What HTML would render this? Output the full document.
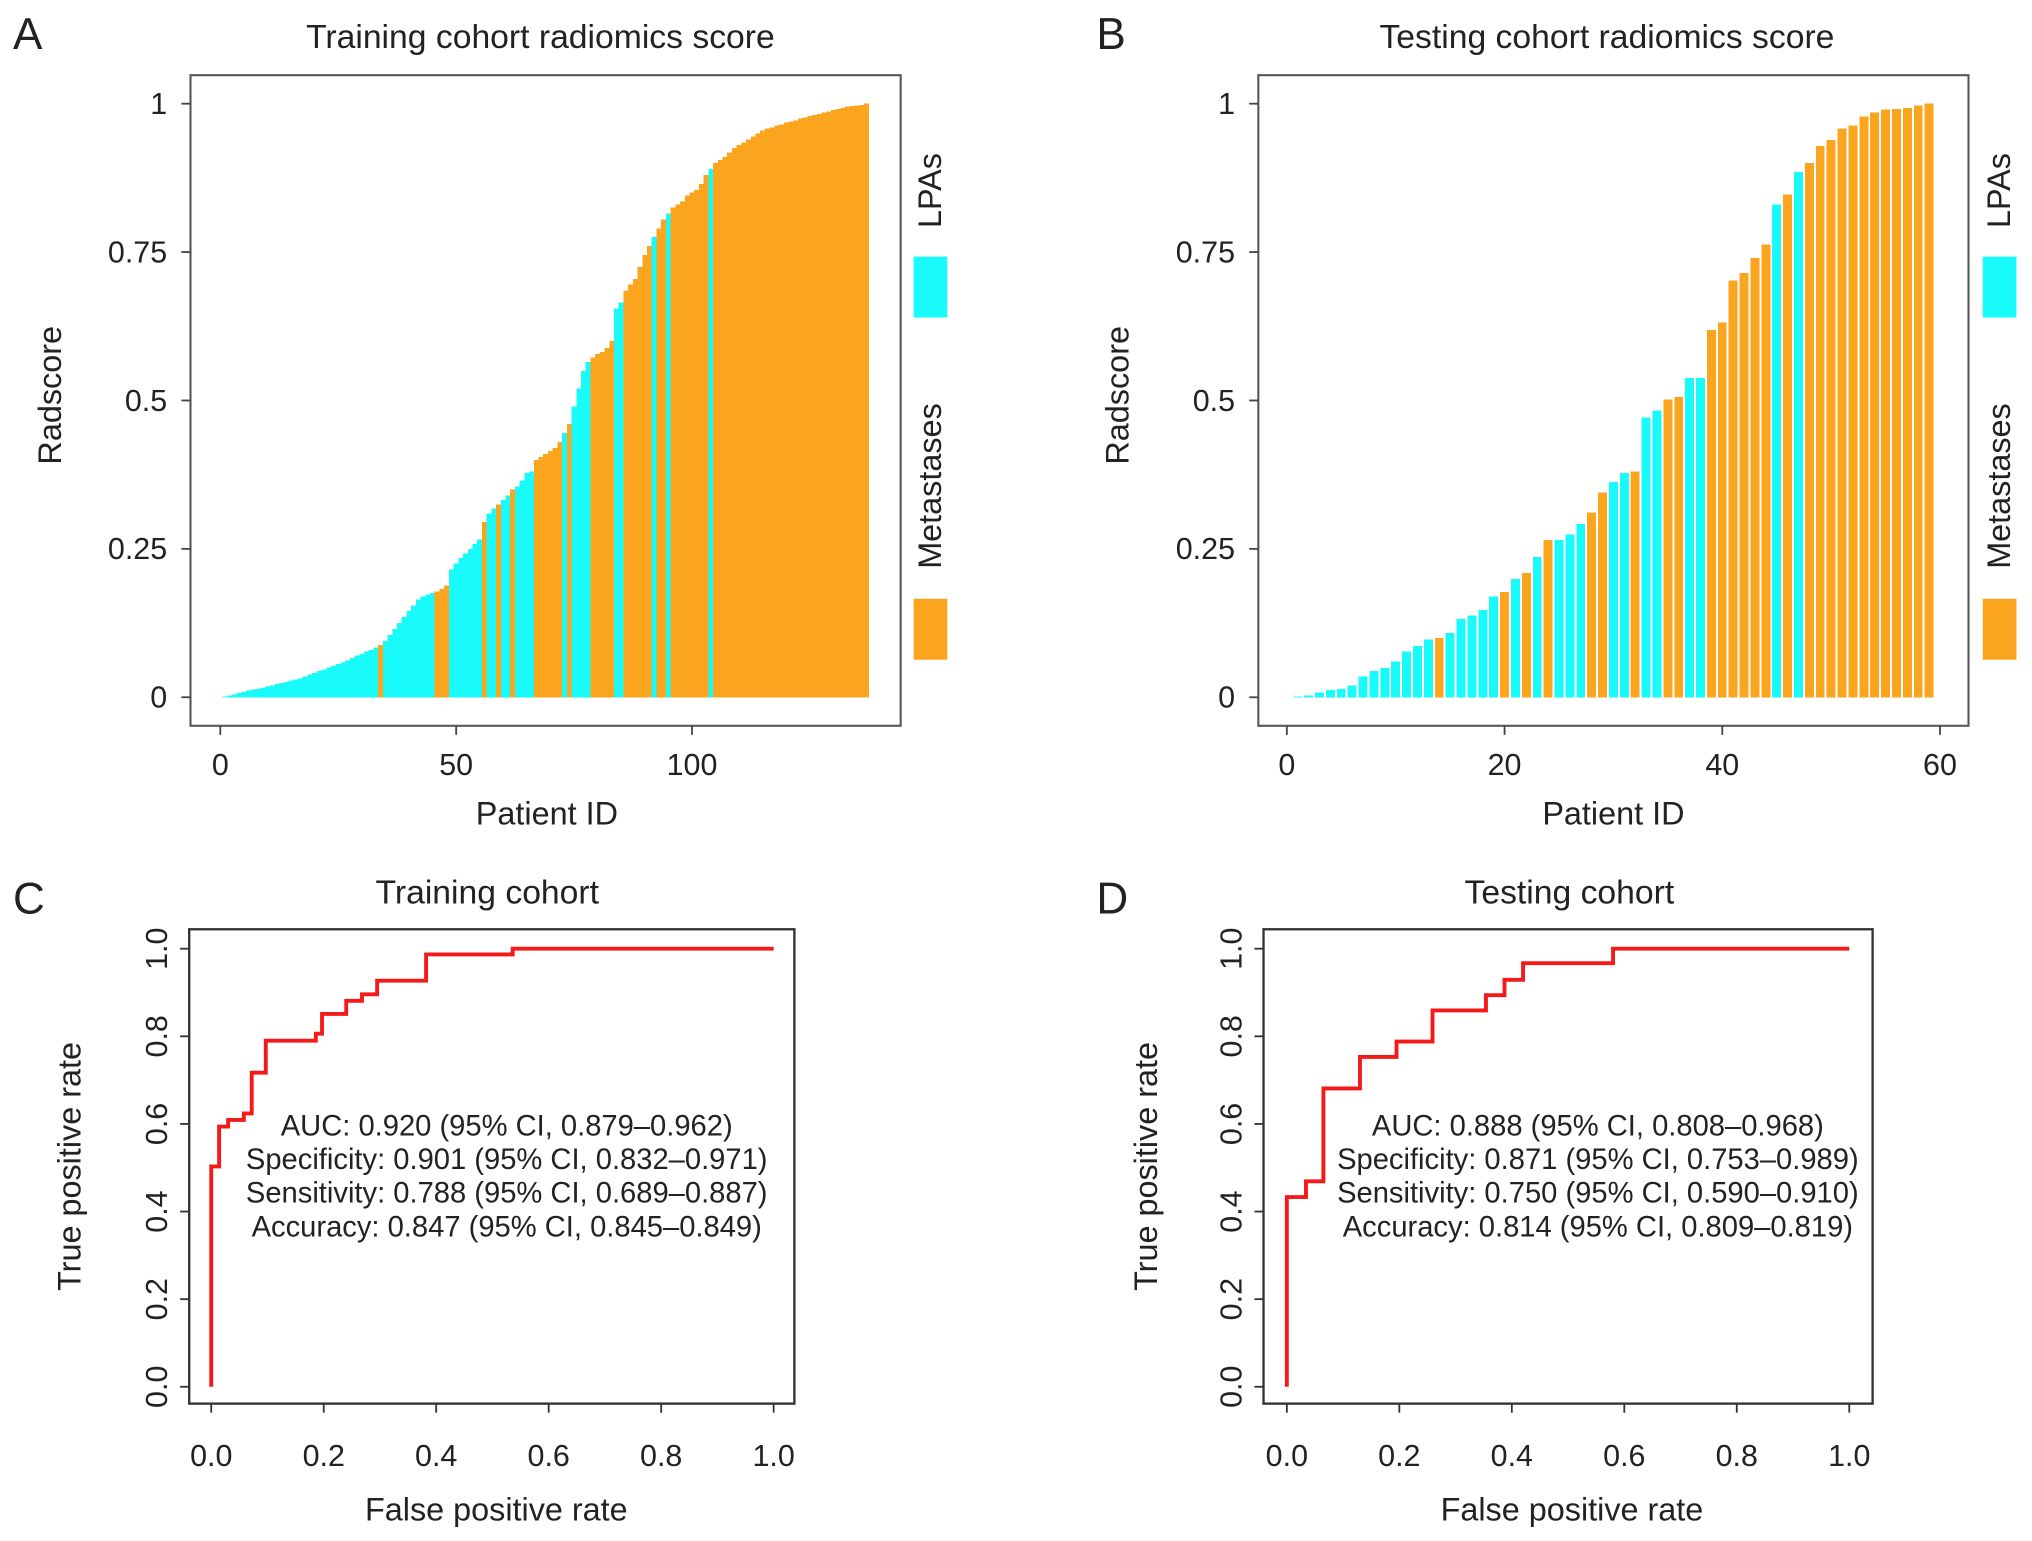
<!DOCTYPE html>
<html><head><meta charset="utf-8"><style>
html,body{margin:0;padding:0;background:#fff;}
svg{display:block;font-family:"Liberation Sans",Arial,sans-serif;}
</style></head><body>
<svg id="fig" width="2032" height="1541" viewBox="0 0 1568 1189" preserveAspectRatio="none" xmlns="http://www.w3.org/2000/svg"></svg>
<script>
// ---- Panel A data (training cohort radscores, sorted) ----
const trainValues = [0.001,0.003,0.005,0.007,0.009,0.011,0.013,0.014,0.016,0.018,
0.020,0.022,0.024,0.026,0.028,0.030,0.032,0.035,0.038,0.041,
0.044,0.047,0.050,0.053,0.056,0.059,0.062,0.066,0.070,0.073,
0.077,0.080,0.084,0.088,
0.095,0.105,0.115,0.125,0.135,0.145,0.155,0.165,0.170,0.173,0.176,
0.178,0.182,0.188,
0.215,0.225,0.235,0.242,0.250,0.258,0.266,
0.295,0.310,0.318,0.325,0.332,0.340,0.350,
0.355,0.365,0.378,0.380,
0.400,0.405,0.410,0.415,0.420,0.430,0.445,0.46,
0.49,0.52,0.55,0.565,
0.572,0.578,0.582,0.588,0.60,
0.655,0.665,
0.685,0.695,0.705,0.725,0.745,0.760,0.775,0.79,0.805,0.815,0.825,0.830,
0.835,0.845,0.850,0.855,0.865,0.880,0.890,
0.900,0.905,0.910,0.918,0.925,0.930,0.935,0.940,0.945,0.950,
0.955,0.958,0.960,0.963,0.965,0.968,0.970,0.972,0.975,0.977,
0.979,0.981,0.983,0.985,0.987,0.989,0.991,0.993,0.995,0.996,
0.997,0.998,1.000];
// 'L' = LPAs, 'M' = Metastases
const trainClass = ("L".repeat(33)+"M"+"L".repeat(11)+"MMM"+"L".repeat(7)+"M"+"LL"+"M"+"LL"+"M"+"LLLL"+
"MMMMMM"+"L"+"M"+"LLLL"+"MMMMM"+"LL"+"MMMMMM"+"L"+"MM"+"L"+"MM"+"MMMMMM"+"L"+"M".repeat(33)).split("");
const trainTicks = [0,50,100];
// ---- Panel B data ----
const testValues = [0.001,0.003,0.008,0.012,0.014,0.02,0.035,0.044,0.049,0.06,
0.077,0.086,0.097,0.10,0.108,0.132,0.138,0.147,0.17,0.177,
0.199,0.209,0.236,0.265,0.265,0.274,0.292,0.311,0.345,0.363,
0.378,0.38,0.471,0.483,0.502,0.506,0.538,0.538,0.619,0.631,
0.702,0.715,0.74,0.763,0.83,0.847,0.885,0.90,0.929,0.939,
0.958,0.963,0.978,0.985,0.99,0.991,0.993,0.997,1.0];
const testClass = ("LLLLLLLLLLLLL"+"M"+"LLLLL"+"M"+"L"+"M"+"L"+"M"+"LLL"+"MM"+"LL"+"M"+"LL"+"MM"+"LL"+"MMMMMM"+"L"+"M"+"L"+"M".repeat(12)).split("");
const testTicks = [0,20,40,60];
const radTicks = [0,0.25,0.5,0.75,1];
const radTickLabels = ["0","0.25","0.5","0.75","1"];
// ---- ROC data ----
const rocTrainFpr = [0,0.014,0.030,0.058,0.072,0.097,0.186,0.197,0.240,0.268,0.295,0.382,0.536,1];
const rocTrainTpr = [0.503,0.594,0.609,0.624,0.717,0.79,0.806,0.851,0.881,0.896,0.927,0.987,1,1];
const rocTestFpr = [0,0.034,0.065,0.130,0.195,0.259,0.354,0.387,0.420,0.580,1];
const rocTestTpr = [0.433,0.469,0.681,0.753,0.788,0.859,0.894,0.929,0.967,1,1];
const rocTicks = [0,0.2,0.4,0.6,0.8,1.0];
const rocTickLabels = ["0.0","0.2","0.4","0.6","0.8","1.0"];
const trainStats = ["AUC: 0.920 (95% CI, 0.879\u20130.962)","Specificity: 0.901 (95% CI, 0.832\u20130.971)","Sensitivity: 0.788 (95% CI, 0.689\u20130.887)","Accuracy: 0.847 (95% CI, 0.845\u20130.849)"];
const testStats = ["AUC: 0.888 (95% CI, 0.808\u20130.968)","Specificity: 0.871 (95% CI, 0.753\u20130.989)","Sensitivity: 0.750 (95% CI, 0.590\u20130.910)","Accuracy: 0.814 (95% CI, 0.809\u20130.819)"];

const NS="http://www.w3.org/2000/svg";
const svg=document.getElementById('fig');
const CY="#19fbfb", OR="#fba51e", TXT="#222";
function mk(tag,attrs,parent,text){const e=document.createElementNS(NS,tag);for(const k in attrs)e.setAttribute(k,attrs[k]);if(text!==undefined)e.textContent=text;(parent||svg).appendChild(e);return e;}
function grp(name){const g=mk('g',{});return g;}
function txt(g,x,y,s,size,anchor,rot,name){const a={x:x,y:y,'font-size':size,'text-anchor':anchor||'middle',fill:TXT};if(rot)a.transform=`rotate(-90 ${x} ${y})`;const t=mk('text',a,g,s);return t;}

function barPanel(o){
  const g=grp(o.name);
  const xs=v=>o.x0+(v)*o.ux, ys=v=>o.y0-(o.y0-o.y1)*v;
  const box=mk('rect',{x:o.bx0,y:58,width:o.bx1-o.bx0,height:502,fill:'none',stroke:'#555','stroke-width':1.6},g);
  
  const bars=grp('bars');g.appendChild(bars);
  o.values.forEach((v,i)=>{
    const c=xs(i+1), w=o.ux*o.bw;
    const r=mk('rect',{x:c-w/2,y:ys(v),width:w,height:ys(0)-ys(v),fill:o.cls[i]==='L'?CY:OR,'shape-rendering':'crispEdges'},bars);
    
    
  });
  radTicks.forEach((t,i)=>{mk('line',{x1:o.bx0-7,x2:o.bx0,y1:ys(t),y2:ys(t),stroke:'#444','stroke-width':1.4},g);
    txt(g,o.bx0-18,ys(t)+8,radTickLabels[i],23.5,'end',false,'y-tick-label');});
  o.ticks.forEach(t=>{mk('line',{x1:xs(t),x2:xs(t),y1:560,y2:567,stroke:'#444','stroke-width':1.4},g);
    txt(g,xs(t),598,String(t),23.5,'middle',false,'x-tick-label');});
  txt(g,o.title[1],37,o.title[0],26,'middle',false,'chart-title');
  txt(g,o.xlab,636,'Patient ID',25,'middle',false,'x-axis-title');
  txt(g,o.ylab,305,'Radscore',25,'middle',true,'y-axis-title');
  const lx=o.legx;
  const r1=mk('rect',{x:lx,y:198,width:26,height:47,fill:CY},g);
  const r2=mk('rect',{x:lx,y:462,width:26,height:47,fill:OR},g);
  txt(g,lx+21,147,'LPAs',25,'middle',true,'legend-label-lpas');
  txt(g,lx+21,375,'Metastases',25,'middle',true,'legend-label-metastases');
  txt(g,o.letter[1],38,o.letter[0],34,'start',false,'panel-letter');
}
barPanel({name:'panel-a-training-radscore',values:trainValues,cls:trainClass,ticks:trainTicks,x0:170,ux:3.64,bw:1.08,y0:538,y1:80,bx0:147,bx1:695,title:['Training cohort radiomics score',417],xlab:422,ylab:47,legx:705,letter:['A',10]});
barPanel({name:'panel-b-testing-radscore',values:testValues,cls:testClass,ticks:testTicks,x0:993,ux:8.4,bw:0.82,y0:538,y1:80,bx0:971,bx1:1519,title:['Testing cohort radiomics score',1240],xlab:1245,ylab:871,legx:1530,letter:['B',846]});

function rocPanel(o){
  const g=grp(o.name);
  const xs=v=>o.x0+(o.x1-o.x0)*v, ys=v=>1070-338*v;
  const box=mk('rect',{x:o.bx0,y:717,width:o.bx1-o.bx0,height:366,fill:'none',stroke:'#333','stroke-width':1.8},g);
  
  rocTicks.forEach((t,i)=>{
    mk('line',{x1:o.bx0-7,x2:o.bx0,y1:ys(t),y2:ys(t),stroke:'#333','stroke-width':1.4},g);
    txt(g,o.bx0-17,ys(t),rocTickLabels[i],23.5,'middle',true,'y-tick-label');
    mk('line',{x1:xs(t),x2:xs(t),y1:1083,y2:1090,stroke:'#333','stroke-width':1.4},g);
    txt(g,xs(t),1131,rocTickLabels[i],23.5,'middle',false,'x-tick-label');
  });
  let d=`M${xs(o.fpr[0])},${ys(0)}`;
  for(let i=0;i<o.fpr.length;i++){d+=` L${xs(o.fpr[i])},${ys(o.tpr[i])}`;if(i+1<o.fpr.length)d+=` L${xs(o.fpr[i+1])},${ys(o.tpr[i])}`;}
  const p=mk('path',{d:d,fill:'none',stroke:'#f51a1a','stroke-width':3},g);
  
  o.stats.forEach((s,i)=>txt(g,o.sx,876+i*26,s,22.5,'middle',false,'stat-line'));
  txt(g,o.title[1],697,o.title[0],26,'middle',false,'chart-title');
  txt(g,o.xlab,1173,'False positive rate',25,'middle',false,'x-axis-title');
  txt(g,o.ylab,900,'True positive rate',25,'middle',true,'y-axis-title');
  txt(g,o.letter[1],705,o.letter[0],34,'start',false,'panel-letter');
}
rocPanel({name:'panel-c-training-roc',fpr:rocTrainFpr,tpr:rocTrainTpr,x0:163,x1:597,bx0:146,bx1:613,stats:trainStats,sx:391,title:['Training cohort',376],xlab:383,ylab:62,letter:['C',10]});
rocPanel({name:'panel-d-testing-roc',fpr:rocTestFpr,tpr:rocTestTpr,x0:993,x1:1427,bx0:975,bx1:1445,stats:testStats,sx:1233,title:['Testing cohort',1211],xlab:1213,ylab:893,letter:['D',846]});
</script>
</body></html>
